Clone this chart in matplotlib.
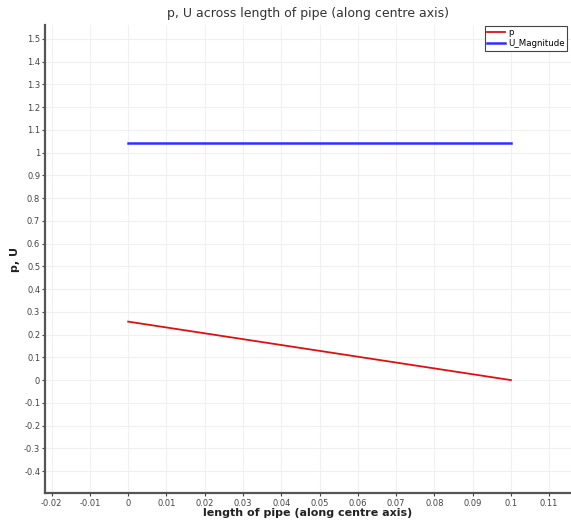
import matplotlib
matplotlib.use("Agg")
import matplotlib.pyplot as plt

# line data sampled along the pipe centre axis
x_pos = [0.0, 0.1]
p_vals = [0.257, 0.0]
u_mag = [1.043, 1.043]

x_ticks = [-0.02, -0.01, 0, 0.01, 0.02, 0.03, 0.04, 0.05, 0.06, 0.07, 0.08, 0.09, 0.1, 0.11]
x_tick_labels = ["-0.02", "-0.01", "0", "0.01", "0.02", "0.03", "0.04", "0.05",
                 "0.06", "0.07", "0.08", "0.09", "0.1", "0.11"]
y_ticks = [-0.4, -0.3, -0.2, -0.1, 0, 0.1, 0.2, 0.3, 0.4, 0.5, 0.6, 0.7,
           0.8, 0.9, 1, 1.1, 1.2, 1.3, 1.4, 1.5]
y_tick_labels = ["-0.4", "-0.3", "-0.2", "-0.1", "0", "0.1", "0.2", "0.3", "0.4", "0.5",
                 "0.6", "0.7", "0.8", "0.9", "1", "1.1", "1.2", "1.3", "1.4", "1.5"]

plt.rcParams['font.family'] = ['DejaVu Sans']

fig = plt.figure(figsize=(5.71, 5.23), dpi=100)
ax = fig.add_axes([0.079, 0.057, 0.921, 0.895])

ax.plot(x_pos, p_vals, color="#e01010", linewidth=1.3, label="p")
ax.plot(x_pos, u_mag, color="#2f2fff", linewidth=1.8, label="U_Magnitude")

ax.set_xlim(-0.0217, 0.1157)
ax.set_ylim(-0.497, 1.56)
ax.set_xticks(x_ticks)
ax.set_xticklabels(x_tick_labels)
ax.set_yticks(y_ticks)
ax.set_yticklabels(y_tick_labels)
ax.tick_params(labelsize=6, colors="#444444", length=2.5, width=0.8)
ax.tick_params(axis="x", pad=1.5)
ax.tick_params(axis="y", pad=1)

ax.grid(True, color="#f0f0f0", linewidth=0.8)
ax.set_axisbelow(True)
for side in ["top", "right"]:
    ax.spines[side].set_visible(False)
for side in ["left", "bottom"]:
    ax.spines[side].set_color("#555555")
    ax.spines[side].set_linewidth(1.6)

ax.set_title("p, U across length of pipe (along centre axis)", fontsize=9,
             color="#333333", pad=6)
ax.set_xlabel("length of pipe (along centre axis)", fontsize=8,
              fontweight="bold", color="#222222", labelpad=0.5)
ax.set_ylabel("p, U", fontsize=8, fontweight="bold", color="#222222", labelpad=3)

leg = ax.legend(loc="upper left", bbox_to_anchor=(0.849, 0.951),
                bbox_transform=fig.transFigure, fontsize=6.2,
                fancybox=False, framealpha=1, edgecolor="#444444",
                handlelength=2.0, handletextpad=0.4, borderpad=0.3,
                labelspacing=0.25, borderaxespad=0)
leg.get_frame().set_linewidth(0.8)

fig.savefig("out.png", dpi=100)
